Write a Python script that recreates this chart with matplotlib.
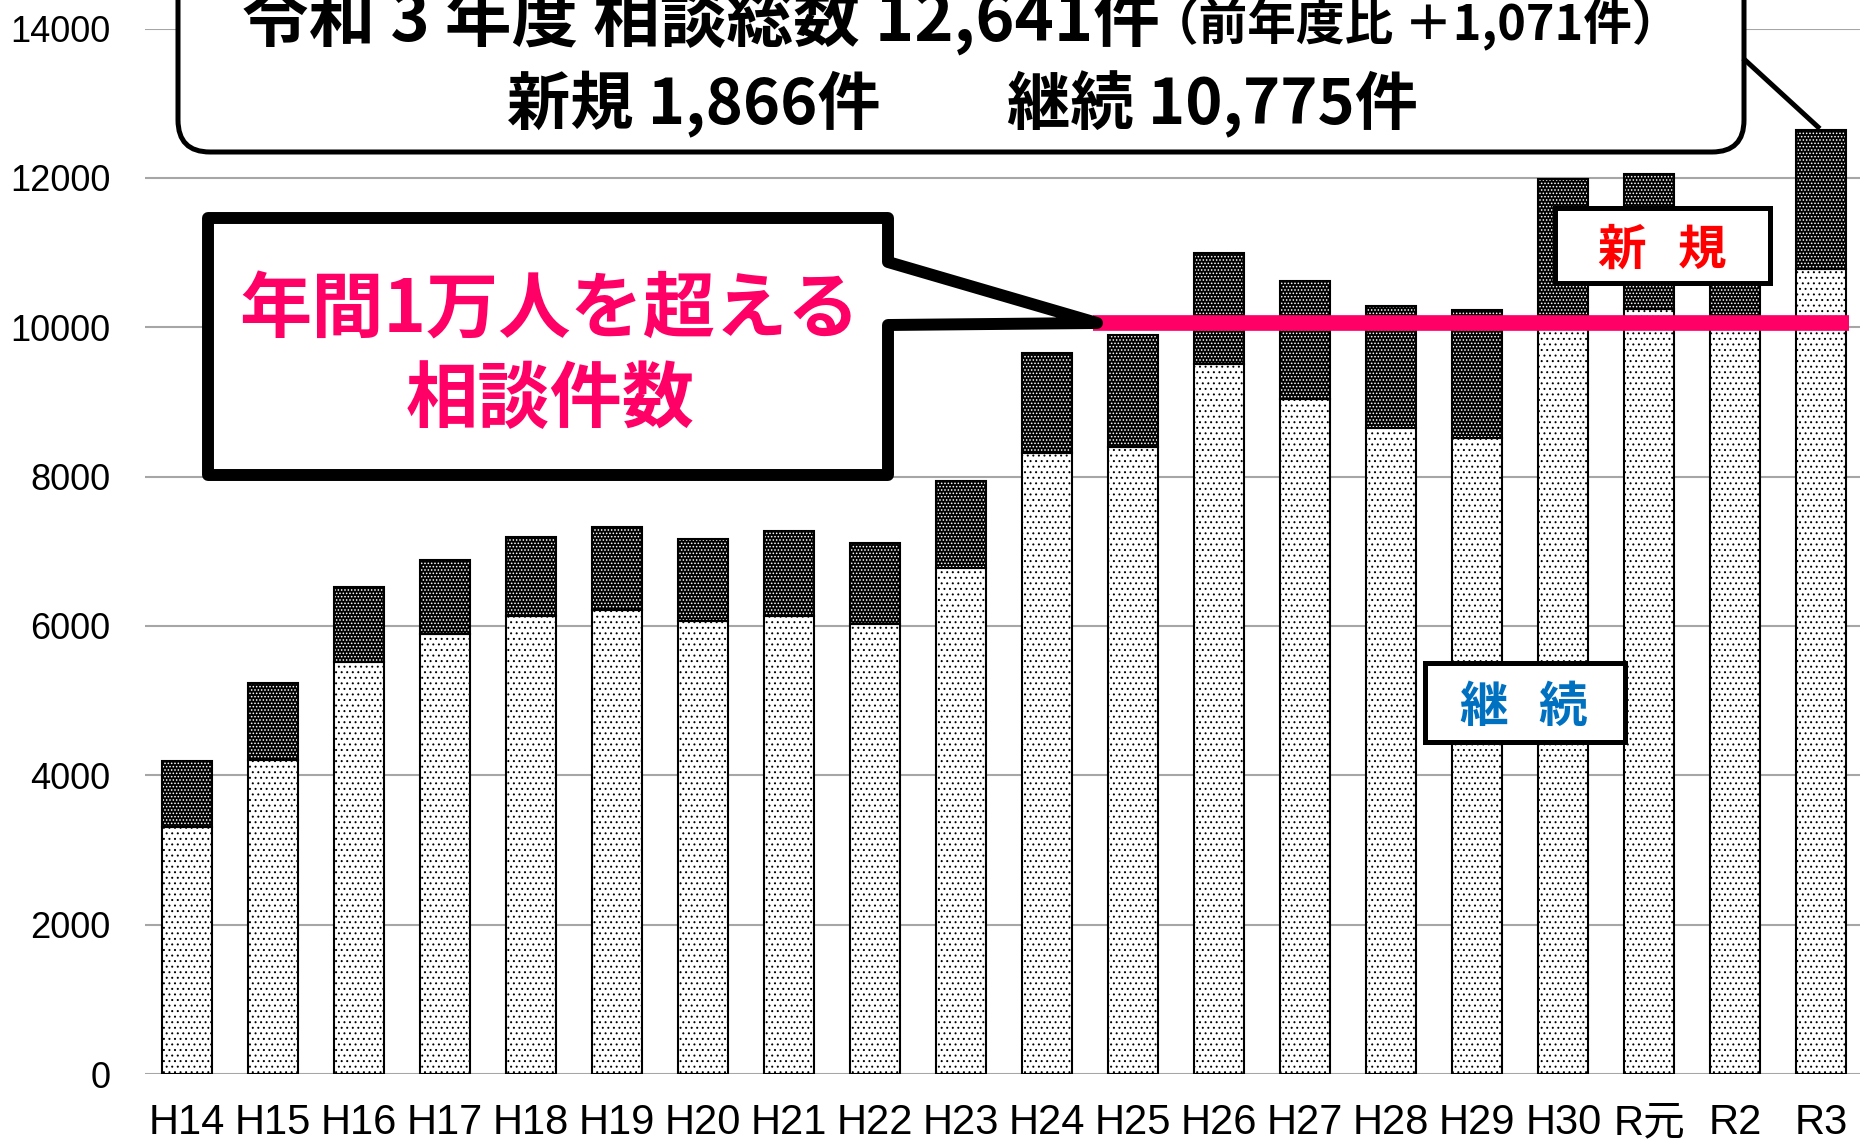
import matplotlib
matplotlib.use('Agg')
import matplotlib.pyplot as plt
from matplotlib.patches import Polygon, FancyBboxPatch, Rectangle
from matplotlib.lines import Line2D
from matplotlib.transforms import Affine2D
import numpy as np

# ---- data ----
years = ['H14', 'H15', 'H16', 'H17', 'H18', 'H19', 'H20', 'H21', 'H22', 'H23',
         'H24', 'H25', 'H26', 'H27', 'H28', 'H29', 'H30', 'R元', 'R2', 'R3']
continuing = [3310, 4210, 5520, 5890, 6130, 6210, 6060, 6130, 6020, 6780,
              8320, 8400, 9510, 9040, 8650, 8520, 10050, 10250, 10000, 10775]
new = [880, 1030, 1000, 1000, 1060, 1110, 1100, 1140, 1090, 1160,
       1340, 1490, 1490, 1580, 1640, 1710, 1940, 1800, 1570, 1866]
yticks = [0, 2000, 4000, 6000, 8000, 10000, 12000, 14000]

title_main = '令和 3 年度 相談総数 12,641件'
title_sub = '（前年度比 ＋1,071件）'
title_line2 = '新規 1,866件　　継続 10,775件'
callout_lines = ['年間1万人を超える', '相談件数']

W, H = 1860, 1145
plt.rcParams['hatch.linewidth'] = 0.7
CJK = 'Noto Sans CJK JP'
LAT = ['Liberation Sans', 'Noto Sans CJK JP', 'DejaVu Sans']

fig = plt.figure(figsize=(W / 100, H / 100), dpi=100)
ax = fig.add_axes([145 / W, (H - 1074) / H, (W - 145) / W, (1074 - 28.6) / H])

x = np.arange(len(years))
bw = 0.58
# continuing: white with black dots
ax.bar(x, continuing, width=bw, color='white', edgecolor='black',
       hatch='...', linewidth=1.5, zorder=2)
# new: black with white dots, then black outline
ax.bar(x, new, bottom=continuing, width=bw, color='black', edgecolor='white',
       hatch='.....', linewidth=0, zorder=2)
ax.bar(x, new, bottom=continuing, width=bw, color='none', edgecolor='black',
       linewidth=1.5, zorder=3)

ax.set_xlim(-0.49, 19.45)
ax.set_ylim(0, 14000)
ax.set_yticks(yticks)
ax.set_xticks(x)
ax.set_xticklabels(years, family=LAT, fontsize=30)
for lab in ax.get_yticklabels():
    lab.set_family(LAT)
    lab.set_fontsize(26)
ax.tick_params(axis='x', length=0, pad=21)
ax.tick_params(axis='y', length=0, pad=25)
ax.yaxis.grid(True, color='#A6A6A6', linewidth=1.5)
ax.set_axisbelow(True)
for s in ax.spines.values():
    s.set_visible(False)

# pixel transform (reference pixel coords, y downward)
pxT = Affine2D().scale(1 / W, -1 / H).translate(0, 1) + fig.transFigure

def fxy(px, py):
    return px / W, 1 - py / H

# pink 10,000 line
fig.add_artist(Line2D([1093, 1849], [323, 323], transform=pxT, color='#FF0066',
                      linewidth=11.3, solid_capstyle='butt', zorder=5))

# left callout
call = Polygon([(208, 218), (888, 218), (888, 262), (1097, 323), (888, 325),
                (888, 475), (208, 475)], closed=True, transform=pxT,
               facecolor='white', edgecolor='black', linewidth=8.6,
               joinstyle='round', zorder=6)
fig.add_artist(call)
fig.text(*fxy(550, 311), callout_lines[0], family=CJK, fontweight='bold',
         fontsize=52, color='#FF0066', ha='center', va='center', zorder=7)
fig.text(*fxy(550, 401), callout_lines[1], family=CJK, fontweight='bold',
         fontsize=52, color='#FF0066', ha='center', va='center', zorder=7)

# top rounded box
big = FancyBboxPatch((178, -100), 1566, 252,
                     boxstyle='round,pad=0,rounding_size=32', transform=pxT,
                     facecolor='white', edgecolor='black', linewidth=3.6, zorder=6)
fig.add_artist(big)
fig.add_artist(Line2D([1745, 1818], [60, 127], transform=pxT, color='black',
                      linewidth=3.6, zorder=6))
fig.text(*fxy(1160, 41), title_main, family=CJK, fontweight='bold',
         fontsize=48, ha='right', va='baseline', zorder=7)
fig.text(*fxy(1150, 40), title_sub, family=CJK, fontweight='bold',
         fontsize=35, ha='left', va='baseline', zorder=7)
fig.text(*fxy(962, 124), title_line2, family=CJK, fontweight='bold',
         fontsize=45.5, ha='center', va='baseline', zorder=7)

# 新規 label
fig.add_artist(Rectangle((1555, 208), 215, 75, transform=pxT, facecolor='white',
                         edgecolor='black', linewidth=3.6, zorder=6))
for ch, cx in zip('新規', [1622, 1702]):
    fig.text(*fxy(cx, 250), ch, family=CJK, fontweight='bold', fontsize=35,
             color='#FF0000', ha='center', va='center', zorder=7)

# 継続 label
fig.add_artist(Rectangle((1425, 663), 200, 79, transform=pxT, facecolor='white',
                         edgecolor='black', linewidth=3.6, zorder=6))
for ch, cx in zip('継続', [1484, 1563]):
    fig.text(*fxy(cx, 707), ch, family=CJK, fontweight='bold', fontsize=35,
             color='#0070C0', ha='center', va='center', zorder=7)

fig.savefig('out.png', dpi=100)
